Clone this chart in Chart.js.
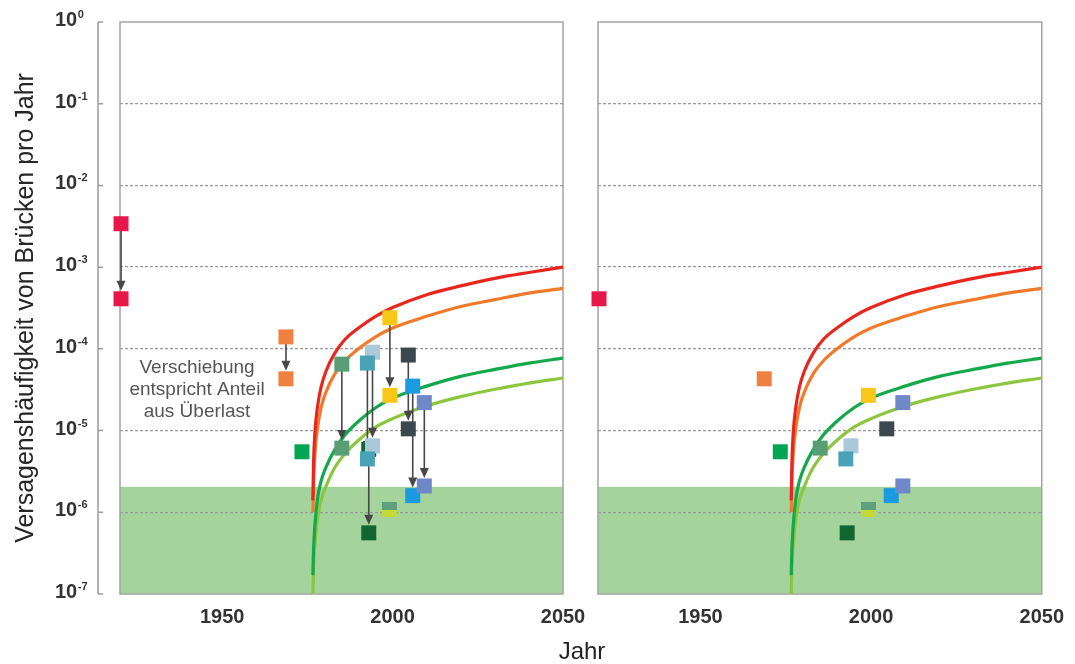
<!DOCTYPE html>
<html lang="de">
<head>
<meta charset="utf-8">
<title>Versagenshäufigkeit von Brücken</title>
<script src="https://cdn.jsdelivr.net/npm/chart.js@4.4.1/dist/chart.umd.min.js"></script>
<style>
    html, body { margin: 0; padding: 0; background: #fff; }
    body { width: 1075px; height: 664px; position: relative; overflow: hidden; font-family: "Liberation Sans", Arial, sans-serif; }
    #leftWrap { position: absolute; left: 0; top: 0; }
    #rightWrap { position: absolute; left: 560px; top: 0; }
    #xTitle { position: absolute; left: 482px; top: 639px; width: 200px; text-align: center; font-size: 24px; line-height: 24px; color: #222; }
</style>
</head>
<body>
<div id="leftWrap"><canvas id="leftChart" width="600" height="664"></canvas></div>
<div id="rightWrap"><canvas id="rightChart" width="515" height="664"></canvas></div>
<div id="xTitle">Jahr</div>
<script>
// ---------- Data ----------
var yearMin = 1920;
var yearMax = 2050;
var yearTicks = [1950, 2000, 2050];
var decadeTicks = [1e-7, 1e-6, 1e-5, 1e-4, 1e-3, 1e-2, 1e-1, 1];

// curves
var curveYears      = [1976.6, 1976.8, 1977.2, 1978, 1979, 1980.5, 1983, 1986, 1990, 1995, 2000, 2010, 2020, 2030, 2040, 2050];
var redCurve        = [1.4e-6, 4.0e-6, 9.5e-6, 2.0e-5, 3.4e-5, 5.4e-5, 8.8e-5, 1.3e-4, 1.8e-4, 2.5e-4, 3.2e-4, 4.6e-4, 5.9e-4, 7.3e-4, 8.6e-4, 1.0e-3];
var orangeCurve     = [1.0e-6, 2.2e-6, 5.2e-6, 1.1e-5, 1.9e-5, 3.0e-5, 4.9e-5, 7.1e-5, 1.0e-4, 1.4e-4, 1.8e-4, 2.5e-4, 3.3e-4, 4.0e-4, 4.8e-4, 5.5e-4];
var greenCurve      = [1.7e-7, 3.5e-7, 7.0e-7, 1.5e-6, 2.4e-6, 3.6e-6, 5.8e-6, 8.8e-6, 1.3e-5, 1.9e-5, 2.5e-5, 3.5e-5, 4.6e-5, 5.6e-5, 6.7e-5, 7.7e-5];
var lightGreenCurve = [1.0e-7, 2.0e-7, 4.0e-7, 8.5e-7, 1.4e-6, 2.1e-6, 3.5e-6, 5.2e-6, 7.6e-6, 1.1e-5, 1.4e-5, 2.0e-5, 2.6e-5, 3.2e-5, 3.8e-5, 4.4e-5];

// bridges: value before (left panel, top of arrow) and after
var bridgeColors  = ["#e8174a", "#f0803f", "#00a651", "#5a9e78", "#a9c9d8", "#4aa2b6", "#12662f", "#f7c817", "#3b4850", "#1a9be0", "#6f88c8"];
var bridgeYears   = [1920.3, 1968.7, 1973.4, 1985.1, 1994.1, 1992.6, 1993.0, 1999.2, 2004.6, 2005.9, 2009.3];
var valuesBefore  = [3.4e-3, 1.4e-4, null,   6.5e-5, 9.1e-5, 6.7e-5, 5.9e-6, 2.4e-4, 8.4e-5, 3.5e-5, 2.2e-5];
var valuesAfter   = [4.1e-4, 4.3e-5, 5.5e-6, 6.1e-6, 6.5e-6, 4.5e-6, 5.6e-7, 2.7e-5, 1.05e-5, 1.6e-6, 2.1e-6];

// right panel keeps one extra square
var extraYears  = [2009.3];
var extraValues = [2.2e-5];
var extraColors = ["#6f88c8"];

// small two-coloured square near 2000
var halfYears  = [1999.2, 1999.2];
var halfValues = [1.2e-6, 9.7e-7];
var halfColors = ["#5f9f7c", "#c2d93a"];

var bandTop = 2.05e-6;
var noteLines = ["Verschiebung", "entspricht Anteil", "aus Überlast"];
var noteYear = 1942.6;
var noteValue = 3.2e-5;

// ---------- Helpers ----------
var chartFont = "'Liberation Sans', Arial, Helvetica, sans-serif";
Chart.defaults.font.family = chartFont;
Chart.defaults.color = "#333";

function decadeExponent(v) {
    return String(Math.round(Math.log10(v)));
}

function toPoints(xs, ys) {
    var out = [];
    for (var i = 0; i < xs.length; i++) {
        if (ys[i] != null) out.push({ x: xs[i], y: ys[i] });
    }
    return out;
}

function pickColors(ys, cols) {
    var out = [];
    for (var i = 0; i < ys.length; i++) {
        if (ys[i] != null) out.push(cols[i]);
    }
    return out;
}

function halfSquare(color, h) {
    var c = document.createElement("canvas");
    c.width = 15;
    c.height = h;
    var g = c.getContext("2d");
    g.fillStyle = color;
    g.fillRect(0, 0, 15, h);
    return c;
}

function curve(values, color, order, arrows) {
    return {
        data: toPoints(curveYears, values),
        showLine: true,
        borderColor: color,
        borderWidth: 3.2,
        pointRadius: 0,
        fill: false,
        cubicInterpolationMode: "monotone",
        order: order,
        arrowsAfter: !!arrows
    };
}

function squares(pts, colors, order) {
    return {
        data: pts,
        clip: false,
        pointStyle: "rect",
        pointRadius: 10.6,
        pointHoverRadius: 10.6,
        pointBackgroundColor: colors,
        pointBorderWidth: 0,
        pointBorderColor: "rgba(0,0,0,0)",
        order: order
    };
}

function halvesDataset() {
    return {
        data: toPoints(halfYears, halfValues),
        clip: false,
        pointStyle: [halfSquare(halfColors[0], 8), halfSquare(halfColors[1], 7)],
        pointRadius: 8,
        order: 0
    };
}

// ---------- Panel plugin: band, frame, arrows, axis, note ----------
var panelPlugin = {
    id: "panel",
    beforeDraw: function (chart) {
        var a = chart.chartArea, ctx = chart.ctx;
        var top = chart.scales.y.getPixelForValue(bandTop);
        ctx.save();
        ctx.fillStyle = "#a4d49b";
        ctx.fillRect(a.left, top, a.right - a.left, a.bottom - top);
        ctx.restore();
    },
    beforeDatasetsDraw: function (chart) {
        var a = chart.chartArea, ctx = chart.ctx;
        ctx.save();
        ctx.strokeStyle = "#a3a3a3";
        ctx.lineWidth = 1.5;
        ctx.strokeRect(a.left, a.top, a.right - a.left, a.bottom - a.top);
        ctx.restore();
    },
    afterDatasetDraw: function (chart, args, opts) {
        if (!opts.arrows || !chart.data.datasets[args.index].arrowsAfter) return;
        var xs = chart.scales.x, ys = chart.scales.y, ctx = chart.ctx;
        ctx.save();
        ctx.strokeStyle = "#474747";
        ctx.fillStyle = "#474747";
        ctx.lineWidth = 1.6;
        for (var i = 0; i < bridgeYears.length; i++) {
            if (valuesBefore[i] == null) continue;
            var x = xs.getPixelForValue(bridgeYears[i]);
            var y1 = ys.getPixelForValue(valuesBefore[i]);
            var tip = ys.getPixelForValue(valuesAfter[i]) - 8;
            ctx.beginPath();
            ctx.moveTo(x, y1);
            ctx.lineTo(x, tip - 8);
            ctx.stroke();
            ctx.beginPath();
            ctx.moveTo(x - 4.5, tip - 10);
            ctx.lineTo(x + 4.5, tip - 10);
            ctx.lineTo(x, tip);
            ctx.closePath();
            ctx.fill();
        }
        ctx.restore();
    },
    afterDraw: function (chart, args, opts) {
        var a = chart.chartArea, ctx = chart.ctx;
        var xs = chart.scales.x, ys = chart.scales.y;
        ctx.save();
        if (opts.axisLine) {
            var ax = a.left - 22;
            ctx.strokeStyle = "#9c9c9c";
            ctx.lineWidth = 1.5;
            ctx.beginPath();
            ctx.moveTo(ax, a.top);
            ctx.lineTo(ax, a.bottom);
            decadeTicks.forEach(function (v) {
                var y = ys.getPixelForValue(v);
                ctx.moveTo(ax, y);
                ctx.lineTo(ax + 5, y);
            });
            ctx.stroke();

            // decade labels: "10" with a raised exponent
            ctx.fillStyle = "#333";
            ctx.textAlign = "left";
            ctx.textBaseline = "alphabetic";
            decadeTicks.forEach(function (v) {
                var y = ys.getPixelForValue(v);
                ctx.font = "bold 20px " + chartFont;
                ctx.fillText("10", 55, y + 4);
                var w = ctx.measureText("10").width;
                ctx.font = "bold 11px " + chartFont;
                ctx.fillText(decadeExponent(v), 55 + w + 0.5, y - 4);
            });
        }
        if (opts.note) {
            var nx = xs.getPixelForValue(noteYear);
            var ny = ys.getPixelForValue(noteValue);
            ctx.font = "19px " + chartFont;
            ctx.fillStyle = "#555";
            ctx.textAlign = "center";
            ctx.textBaseline = "middle";
            noteLines.forEach(function (t, k) {
                ctx.fillText(t, nx, ny + (k - 1) * 22);
            });
        }
        ctx.restore();
    }
};

// ---------- Shared options ----------
function makeOptions(isLeft) {
    return {
        responsive: false,
        animation: false,
        events: [],
        layout: { padding: { top: 22, right: isLeft ? 37 : 33, bottom: 0, left: 0 } },
        plugins: {
            legend: { display: false },
            tooltip: { enabled: false },
            panel: { arrows: isLeft, note: isLeft, axisLine: isLeft }
        },
        scales: {
            x: {
                type: "linear",
                min: yearMin,
                max: yearMax,
                afterBuildTicks: function (s) { s.ticks = yearTicks.map(function (v) { return { value: v }; }); },
                afterFit: function (s) { s.height = 70; },
                grid: { display: false, drawTicks: false },
                border: { display: false },
                ticks: {
                    padding: 11,
                    color: "#333",
                    font: { size: 20, weight: "bold" },
                    maxRotation: 0,
                    callback: function (v) { return String(v); }
                }
            },
            y: {
                type: "logarithmic",
                min: 1e-7,
                max: 1,
                afterBuildTicks: function (s) { s.ticks = decadeTicks.map(function (v) { return { value: v }; }); },
                afterFit: function (s) {
                    s.width = isLeft ? 120 : 38;
                    s.paddingTop = 0;
                    s.paddingBottom = 0;
                },
                grid: {
                    drawTicks: false,
                    lineWidth: 1.3,
                    color: function (c) {
                        var v = c.tick && c.tick.value;
                        return (v === 1 || v === 1e-7) ? "rgba(0,0,0,0)" : "#9a9a9a";
                    }
                },
                border: { display: false, dash: [3, 2] },
                ticks: { display: false },
                title: {
                    display: isLeft,
                    text: "Versagenshäufigkeit von Brücken pro Jahr",
                    color: "#262626",
                    font: { size: 25 },
                    padding: { top: 11, bottom: 0 }
                }
            }
        }
    };
}

// ---------- Left panel ----------
new Chart(document.getElementById("leftChart"), {
    type: "scatter",
    data: {
        datasets: [
            squares(toPoints(bridgeYears, valuesAfter), pickColors(valuesAfter, bridgeColors), 0),
            halvesDataset(),
            squares(toPoints(bridgeYears, valuesBefore), pickColors(valuesBefore, bridgeColors), 1),
            curve(greenCurve, "#13a84a", 2, true),
            curve(lightGreenCurve, "#8cc63f", 3),
            curve(redCurve, "#e8261e", 4),
            curve(orangeCurve, "#f07a2a", 5)
        ]
    },
    options: makeOptions(true),
    plugins: [panelPlugin]
});

// ---------- Right panel ----------
new Chart(document.getElementById("rightChart"), {
    type: "scatter",
    data: {
        datasets: [
            squares(toPoints(bridgeYears, valuesAfter).concat(toPoints(extraYears, extraValues)),
                    pickColors(valuesAfter, bridgeColors).concat(extraColors), 0),
            halvesDataset(),
            curve(greenCurve, "#13a84a", 2),
            curve(lightGreenCurve, "#8cc63f", 3),
            curve(redCurve, "#e8261e", 4),
            curve(orangeCurve, "#f07a2a", 5)
        ]
    },
    options: makeOptions(false),
    plugins: [panelPlugin]
});
</script>
</body>
</html>
